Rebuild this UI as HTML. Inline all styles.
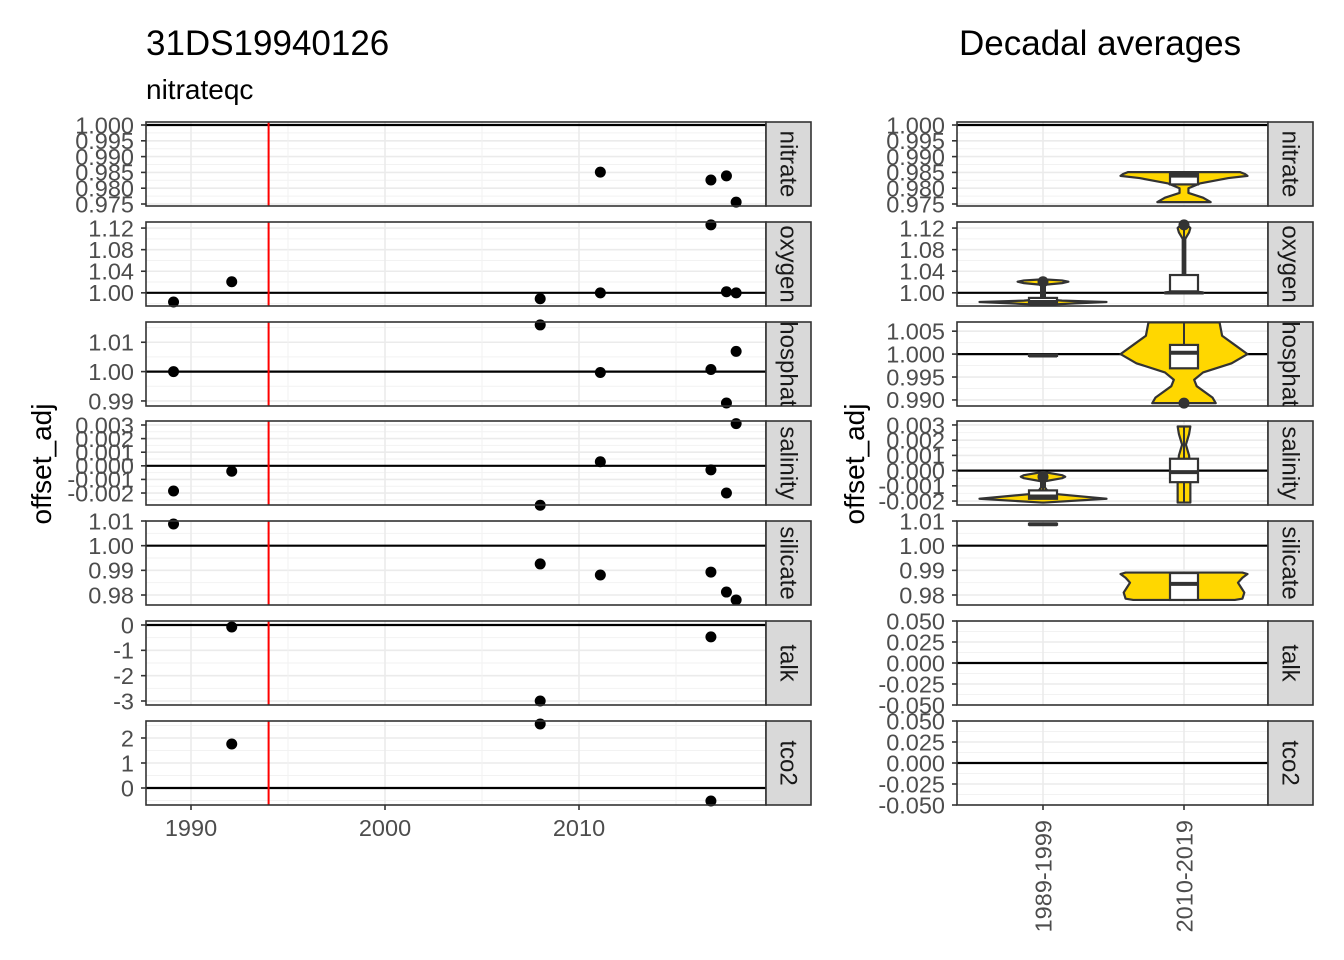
<!DOCTYPE html>
<html><head><meta charset="utf-8"><style>
html,body{margin:0;padding:0;background:#fff}
svg{display:block;font-family:"Liberation Sans",sans-serif}
</style></head><body>
<svg id="c" width="1344" height="960" viewBox="0 0 1344 960">
<text x="146" y="55" font-size="35" fill="#000">31DS19940126</text>
<text x="146" y="99" font-size="28" fill="#000">nitrateqc</text>
<text x="959" y="55" font-size="35" fill="#000">Decadal averages</text>
<text transform="translate(51,464) rotate(-90)" text-anchor="middle" font-size="28" fill="#000">offset_adj</text>
<text transform="translate(864,464) rotate(-90)" text-anchor="middle" font-size="28" fill="#000">offset_adj</text>
</svg>
<script>
const NS="http://www.w3.org/2000/svg";
const svg=document.getElementById('c');
const panelNames=["nitrate","oxygen","phosphate","salinity","silicate","talk","tco2"];
const leftDomains=[[0.97437,1.00095],[0.9756,1.13125],[0.98828,1.0169],[-0.00288,0.003294],[0.97595,1.01],[-3.158,0.158],[-0.68,2.68]];
const rightDomains=[[0.97437,1.00095],[0.9756,1.13125],[0.98868,1.007],[-0.00226,0.00326],[0.97595,1.01],[-0.05,0.05],[-0.05,0.05]];
const refValues=[1,1,1,0,1,0,0];
const leftTicks=[[1.000,0.995,0.990,0.985,0.980,0.975],[1.12,1.08,1.04,1.00],[1.01,1.00,0.99],[0.003,0.002,0.001,0.000,-0.001,-0.002],[1.01,1.00,0.99,0.98],[0,-1,-2,-3],[2,1,0]];
const leftTickLabels=[["1.000","0.995","0.990","0.985","0.980","0.975"],["1.12","1.08","1.04","1.00"],["1.01","1.00","0.99"],["0.003","0.002","0.001","0.000","-0.001","-0.002"],["1.01","1.00","0.99","0.98"],["0","-1","-2","-3"],["2","1","0"]];
const rightTicks=[[1.000,0.995,0.990,0.985,0.980,0.975],[1.12,1.08,1.04,1.00],[1.005,1.000,0.995,0.990],[0.003,0.002,0.001,0.000,-0.001,-0.002],[1.01,1.00,0.99,0.98],[0.05,0.025,0,-0.025,-0.05],[0.05,0.025,0,-0.025,-0.05]];
const rightTickLabels=[["1.000","0.995","0.990","0.985","0.980","0.975"],["1.12","1.08","1.04","1.00"],["1.005","1.000","0.995","0.990"],["0.003","0.002","0.001","0.000","-0.001","-0.002"],["1.01","1.00","0.99","0.98"],["0.050","0.025","0.000","-0.025","-0.050"],["0.050","0.025","0.000","-0.025","-0.050"]];
const pointYears=[[2011.1,2016.8,2017.6,2018.1],[1989.1,1992.1,2008,2011.1,2016.8,2017.6,2018.1],[1989.1,2008,2011.1,2016.8,2017.6,2018.1],[1989.1,1992.1,2008,2011.1,2016.8,2017.6,2018.1],[1989.1,2008,2011.1,2016.8,2017.6,2018.1],[1992.1,2008,2016.8],[1992.1,2008,2016.8]];
const pointValues=[[0.9851,0.9826,0.9839,0.9756],[0.983,1.0206,0.989,1.0,1.126,1.002,1.0],[1.0,1.0159,0.9997,1.0007,0.9893,1.0069],[-0.00185,-0.0004,-0.0029,0.0003,-0.0003,-0.002,0.0031],[1.0088,0.9926,0.9881,0.9893,0.9812,0.978],[-0.08,-3.0,-0.47],[1.76,2.56,-0.52]];
const xTicks=[1990,2000,2010];
const xMinor=[1995,2005,2015];
const redYear=1994;
const decades=["1989-1999","2010-2019"];
const violins=[
 [0,1,[[0.9756,0.42],[0.977,0.3],[0.9785,0.07],[0.980,0.07],[0.9815,0.25],[0.9832,0.7],[0.9839,1.0],[0.9845,0.96],[0.9851,0.88]]],
 [1,0,[[0.9775,0.02],[0.9805,0.5],[0.983,1.0],[0.9855,0.3],[0.988,0.05],[0.992,0.03],[1.015,0.03],[1.018,0.3],[1.0206,0.4],[1.023,0.3],[1.025,0.02]]],
 [1,1,[[0.999,0.3],[1.001,0.3],[1.004,0.05],[1.01,0.02],[1.10,0.02],[1.112,0.08],[1.12,0.1],[1.126,0.05]]],
 [2,1,[[0.9893,0.5],[0.9905,0.45],[0.993,0.2],[0.9944,0.16],[0.996,0.3],[0.998,0.75],[1.0,1.0],[1.002,0.8],[1.004,0.6],[1.0069,0.56]]],
 [3,0,[[-0.0021,0.02],[-0.00185,1.0],[-0.0015,0.1],[-0.0011,0.03],[-0.0007,0.03],[-0.0005,0.3],[-0.0004,0.35],[-0.0003,0.3],[-0.0001,0.02]]],
 [3,1,[[-0.0021,0.1],[-0.001,0.1],[0.0,0.1],[0.001,0.08],[0.0017,0.03],[0.0024,0.08],[0.0029,0.1]]],
 [4,1,[[0.978,0.8],[0.9785,0.92],[0.981,0.95],[0.983,0.9],[0.985,0.85],[0.987,0.92],[0.9885,1.0],[0.9891,0.92]]]
];
const boxPanel=[0,1,1,2,2,3,3,4,4];
const boxDecade=[1,0,1,0,1,0,1,0,1];
const boxQ1=[0.9812,0.9805,1.0,0.9996,0.9969,-0.00185,-0.00076,1.0086,0.978];
const boxMed=[0.9840,0.983,1.001,0.9997,1.0003,-0.0017,-0.0001,1.0087,0.9845];
const boxQ3=[0.9847,0.9906,1.033,0.9999,1.002,-0.0013,0.00078,1.0089,0.9889];
const boxLo=[0.9812,0.9805,1.0,0.9996,0.9969,-0.00185,-0.0021,1.0086,0.9777];
const boxHi=[0.9847,1.0206,1.126,0.9999,1.007,-0.0004,0.0029,1.0089,0.9889];
const outlierPanel=[1,1,2,3];
const outlierDecade=[0,1,1,0];
const outlierValue=[1.0206,1.126,0.9893,-0.0004];

const panelTop=[122,222,322,421,521,621,721], panelH=84;
const L={x0:146,x1:766,s0:766,s1:811}, R={x0:957,x1:1268,s0:1268,s1:1313};
const xL=y=>191+(y-1990)*19.4;
const xR=i=>1043+i*141;
const yS=(p,v,dom)=>panelTop[p]+panelH*(dom[p][1]-v)/(dom[p][1]-dom[p][0]);
function el(t,a,par){const e=document.createElementNS(NS,t);for(const k in a)e.setAttribute(k,a[k]);(par||svg).appendChild(e);return e;}
const WMAX=63.5;

function drawPanel(p,side){
  const S=side==='L'?L:R, dom=side==='L'?leftDomains:rightDomains;
  const ticks=side==='L'?leftTicks[p]:rightTicks[p], labs=side==='L'?leftTickLabels[p]:rightTickLabels[p];
  const top=panelTop[p], bot=top+panelH;
  const g=el('g',{});
  
  
  el('rect',{x:S.x0,y:top,width:S.x1-S.x0,height:panelH,fill:'#fff'},g);
  const cp='clip'+side+p;
  const cl=el('clipPath',{id:cp},g);el('rect',{x:S.x0,y:top,width:S.x1-S.x0,height:panelH},cl);
  const inner=el('g',{'clip-path':'url(#'+cp+')'},g);
  const step=ticks[0]-ticks[1];
  for(let v=ticks[0]+step/2;v>dom[p][0]-step;v-=step){const y=yS(p,v,dom);if(y>top&&y<bot)el('line',{x1:S.x0,x2:S.x1,y1:y,y2:y,stroke:'#f2f2f2','stroke-width':1},inner);}
  ticks.forEach(v=>{const y=yS(p,v,dom);el('line',{x1:S.x0,x2:S.x1,y1:y,y2:y,stroke:'#ebebeb','stroke-width':1.6},inner);});
  if(side==='L'){
    xMinor.forEach(t=>el('line',{x1:xL(t),x2:xL(t),y1:top,y2:bot,stroke:'#f2f2f2','stroke-width':1},inner));
    xTicks.forEach(t=>el('line',{x1:xL(t),x2:xL(t),y1:top,y2:bot,stroke:'#ebebeb','stroke-width':1.6},inner));
  } else {
    decades.forEach((d,i)=>el('line',{x1:xR(i),x2:xR(i),y1:top,y2:bot,stroke:'#ebebeb','stroke-width':1.6},inner));
  }
  const ry=yS(p,refValues[p],dom);
  el('line',{x1:S.x0,x2:S.x1,y1:ry,y2:ry,stroke:'#000','stroke-width':2.2},inner);
  if(side==='L'){
    const rl=el('line',{x1:xL(redYear),x2:xL(redYear),y1:top,y2:bot,stroke:'#ff0000','stroke-width':2},inner);
    
    
    pointYears[p].forEach((yr,i)=>{
      const c=el('circle',{cx:xL(yr),cy:yS(p,pointValues[p][i],dom),r:5.5,fill:'#000'},g);
      
      
    });
  } else {
    violins.filter(v=>v[0]===p).forEach(v=>{
      const cx=xR(v[1]);const prof=v[2];
      let d='';prof.forEach((q,i)=>{d+=(i?'L':'M')+(cx+q[1]*WMAX)+','+yS(p,q[0],dom);});
      for(let i=prof.length-1;i>=0;i--)d+='L'+(cx-prof[i][1]*WMAX)+','+yS(p,prof[i][0],dom);
      const vp=el('path',{d:d+'Z',fill:'#ffd700',stroke:'#333','stroke-width':2.2,'stroke-linejoin':'round'},inner);
      
      
    });
    boxPanel.forEach((bp,i)=>{
      if(bp!==p)return;
      const cx=xR(boxDecade[i]);
      el('line',{x1:cx,x2:cx,y1:yS(p,boxHi[i],dom),y2:yS(p,boxLo[i],dom),stroke:'#333','stroke-width':2},inner);
      const y3=yS(p,boxQ3[i],dom),y1=yS(p,boxQ1[i],dom);
      const b=el('rect',{x:cx-14,y:y3,width:28,height:Math.max(y1-y3,1),fill:'#fff',stroke:'#333','stroke-width':2.2},inner);
      
      
      const ym=yS(p,boxMed[i],dom);
      el('line',{x1:cx-14,x2:cx+14,y1:ym,y2:ym,stroke:'#333','stroke-width':4},inner);
    });
    outlierPanel.forEach((op,i)=>{
      if(op!==p)return;
      const o=el('circle',{cx:xR(outlierDecade[i]),cy:yS(p,outlierValue[i],dom),r:5.5,fill:'#333'},g);
      
      
    });
  }
  el('rect',{x:S.x0,y:top,width:S.x1-S.x0,height:panelH,fill:'none',stroke:'#333','stroke-width':1.6},g);
  ticks.forEach((v,i)=>{
    const y=yS(p,v,dom);
    el('line',{x1:S.x0-5,x2:S.x0,y1:y,y2:y,stroke:'#333','stroke-width':1.6},g);
    const t=el('text',{x:S.x0-12,y:y+8.3,'text-anchor':'end','font-size':23.5,fill:'#4d4d4d'},g);
    t.textContent=labs[i];
    
    
  });
  const s=el('rect',{x:S.s0,y:top,width:S.s1-S.s0,height:panelH,fill:'#d9d9d9',stroke:'#333','stroke-width':1.6},g);
  
  
  const sc=el('clipPath',{id:'s'+cp},g);el('rect',{x:S.s0,y:top,width:S.s1-S.s0,height:panelH},sc);
  const sg=el('g',{'clip-path':'url(#s'+cp+')'},g);
  const st=el('text',{transform:`translate(${(S.s0+S.s1)/2-8},${top+panelH/2}) rotate(90)`,'text-anchor':'middle','font-size':24,fill:'#1a1a1a'},sg);
  st.textContent=panelNames[p];
  
  
}
for(let p=0;p<7;p++){drawPanel(p,'L');drawPanel(p,'R');}
xTicks.forEach(t=>{
  el('line',{x1:xL(t),x2:xL(t),y1:805,y2:810,stroke:'#333','stroke-width':1.6});
  const tx=el('text',{x:xL(t),y:836,'text-anchor':'middle','font-size':23.5,fill:'#4d4d4d'});
  tx.textContent=t;
  
  
});
decades.forEach((d,i)=>{
  el('line',{x1:xR(i),x2:xR(i),y1:805,y2:810,stroke:'#333','stroke-width':1.6});
  const tx=el('text',{transform:`translate(${xR(i)+8.5},820) rotate(-90)`,'text-anchor':'end','font-size':23.5,fill:'#4d4d4d'});
  tx.textContent=d;
  
  
});
</script>
</body></html>
